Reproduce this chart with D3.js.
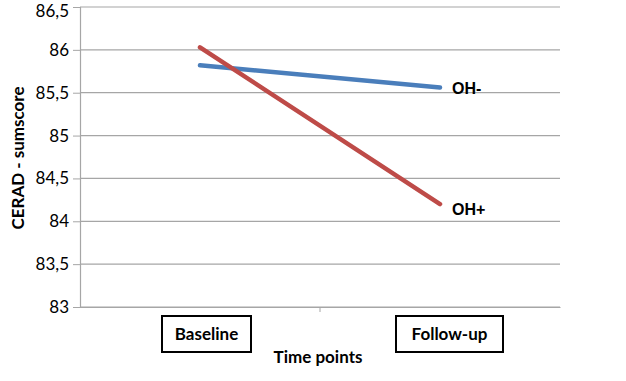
<!DOCTYPE html>
<html><head><meta charset="utf-8">
<script src="https://cdn.jsdelivr.net/npm/d3@7"></script>
<style>body{margin:0;background:#fff;} text{font-family:Lato,"Open Sans",sans-serif;}</style>
</head><body>
<svg id="c" width="626" height="381"></svg>
<script>
const categories = ["Baseline", "Follow-up"];
const seriesNames = ["OH-", "OH+"];
const ohMinus = [85.82, 85.56];
const ohPlus = [86.03, 84.20];
const yTicks = [83, 83.5, 84, 84.5, 85, 85.5, 86, 86.5];
const colors = ["#4a7ebb", "#be4b48"];

const svg = d3.select("#c");
const L = 80, R = 560, T = 7, B = 307;
const x = d3.scaleBand().domain(categories).range([L, R]);
const y = d3.scaleLinear().domain([83, 86.5]).range([B, T]);
const fmt = d => String(d).replace(".", ",");

// gridlines
svg.append("g").selectAll("line").data(yTicks).join("line")
  .attr("x1", L).attr("x2", R).attr("y1", d => y(d)).attr("y2", d => y(d))
  .attr("stroke", "#a6a6a6").attr("stroke-width", 1.2);

// y axis
const ya = svg.append("g").attr("transform", `translate(${L},0)`)
  .call(d3.axisLeft(y).tickValues(yTicks).tickFormat(fmt).tickSize(7).tickPadding(4));
ya.select(".domain").attr("stroke", "#a6a6a6").attr("stroke-width", 1.2);
ya.selectAll(".tick line").attr("stroke", "#a6a6a6");
ya.selectAll("text").attr("font-size", 17).attr("fill", "#000").style("font-family", "Lato, sans-serif")
  .attr("dy", d => d === 86.5 ? "0.55em" : "0.32em");

// x axis
const xa = svg.append("g").attr("transform", `translate(0,${B})`)
  .call(d3.axisBottom(x).tickSize(0).tickFormat(""));
xa.select(".domain").attr("stroke", "#a6a6a6").attr("stroke-width", 1.2);
// category boundary ticks
svg.append("g").selectAll("line").data([categories[1]]).join("line")
  .attr("x1", d => x(d)).attr("x2", d => x(d)).attr("y1", B).attr("y2", B + 5)
  .attr("stroke", "#a6a6a6");

// category boxes
const boxW = {"Baseline": 89, "Follow-up": 107};
const off = {"Baseline": 6.5, "Follow-up": 9.5};
const cg = svg.append("g").selectAll("g").data(categories).join("g");
cg.append("rect")
  .attr("x", d => x(d) + x.bandwidth()/2 - boxW[d]/2 + off[d])
  .attr("y", 316).attr("width", d => boxW[d]).attr("height", 36)
  .attr("fill", "#fff").attr("stroke", "#000").attr("stroke-width", 2);
cg.append("text")
  .attr("x", d => x(d) + x.bandwidth()/2 + off[d])
  .attr("y", 340).attr("text-anchor", "middle").attr("font-size", 17).attr("font-weight", "bold")
  .text(d => d);

// axis titles
svg.append("text").attr("x", 318).attr("y", 363).attr("text-anchor", "middle")
  .attr("font-size", 17).attr("font-weight", "bold").text("Time points");
svg.append("text").attr("transform", "translate(24,158) rotate(-90)").attr("text-anchor", "middle")
  .attr("font-size", 17).attr("font-weight", "bold").text("CERAD - sumscore");

// lines
const line = d3.line().x((d, i) => x(categories[i]) + x.bandwidth()/2).y(d => y(d));
const series = [ohMinus, ohPlus];
svg.append("g").selectAll("path").data(series).join("path")
  .attr("d", d => line(d)).attr("fill", "none")
  .attr("stroke", (d, i) => colors[i]).attr("stroke-width", 4.5).attr("stroke-linecap", "round");

// series labels
svg.append("g").selectAll("text").data(series).join("text")
  .attr("x", x(categories[1]) + x.bandwidth()/2 + 12)
  .attr("y", (d, i) => y(d[1]) + (i === 0 ? 6 : 11))
  .attr("font-size", 16).attr("font-weight", "bold")
  .style("font-family", "'Liberation Sans', Arial, sans-serif")
  .text((d, i) => seriesNames[i]);
</script>
</body></html>
